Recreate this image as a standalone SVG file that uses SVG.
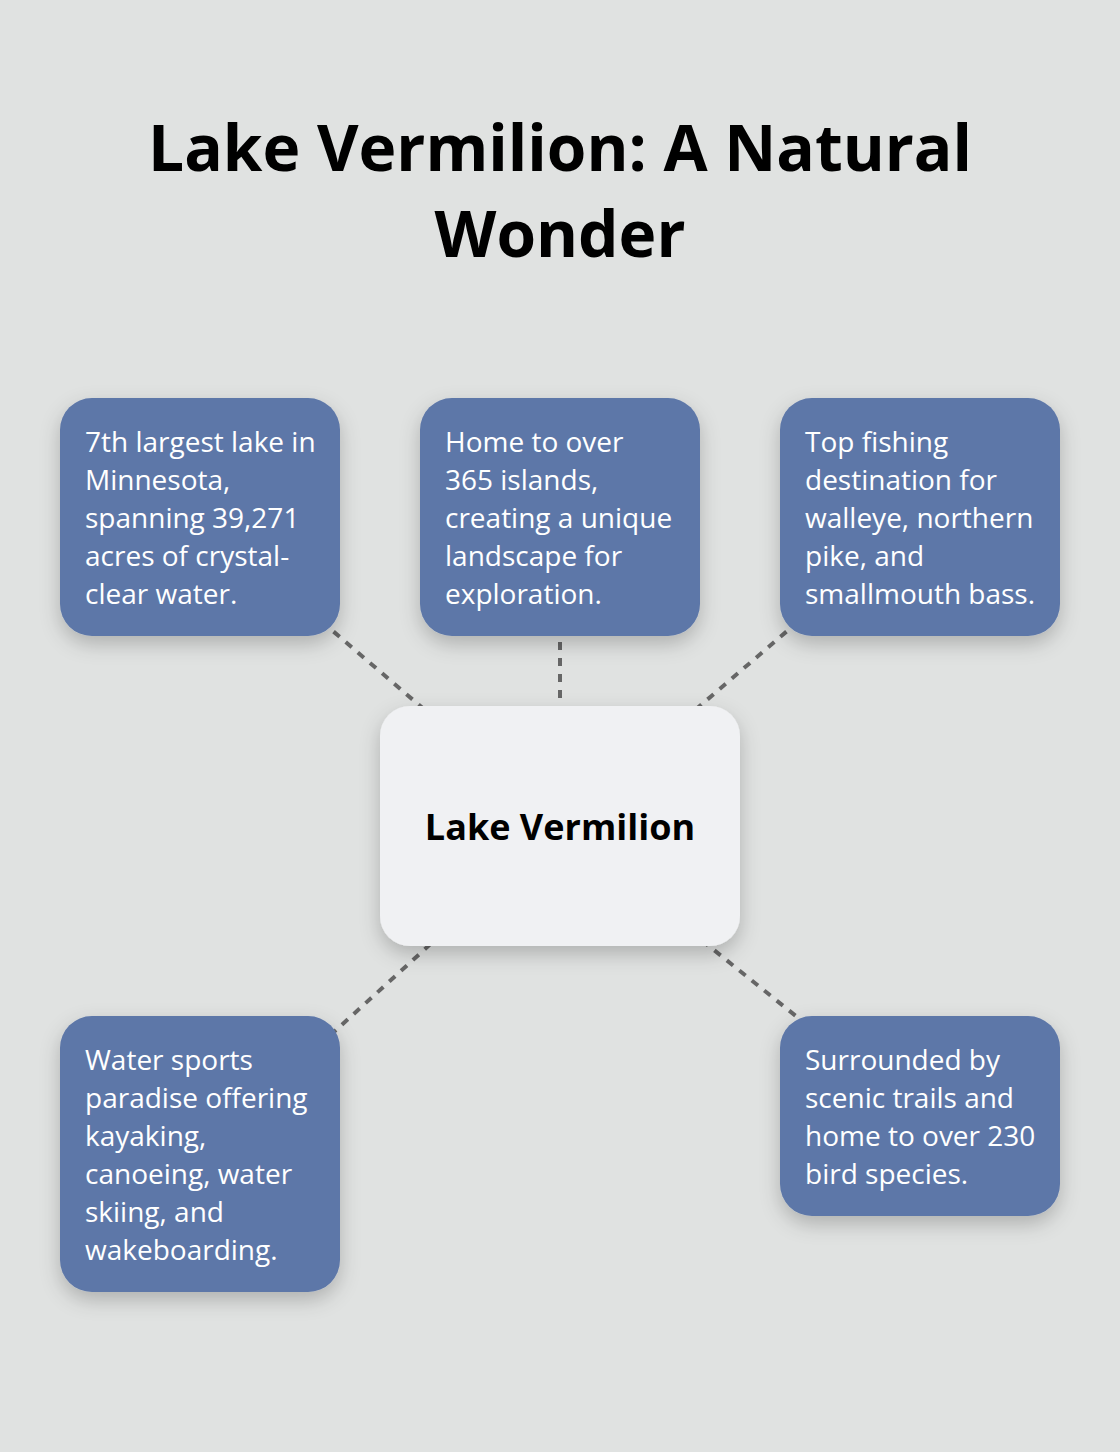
<svg xmlns="http://www.w3.org/2000/svg" width="1120" height="1452" viewBox="0 0 1120 1452">
  <defs>
    <filter id="shadow" x="-25%" y="-25%" width="150%" height="160%">
      <feDropShadow dx="0" dy="8" stdDeviation="10" flood-color="#000" flood-opacity="0.22"/>
    </filter>
    <style>
      .title { font-family: "Open Sans", "Noto Sans", "Liberation Sans", sans-serif; font-weight: 700; font-size: 64px; fill: #000; text-anchor: middle; }
      .box { fill: #5D77A8; filter: url(#shadow); }
      .center { fill: #F0F1F3; filter: url(#shadow); }
      .txt { font-family: "Open Sans", "Noto Sans", "Liberation Sans", sans-serif; font-size: 28px; fill: #FFFFFF; }
      .ctxt { font-family: "Open Sans", "Noto Sans", "Liberation Sans", sans-serif; font-weight: 700; font-size: 36px; fill: #000; text-anchor: middle; }
      .conn { stroke: #666666; stroke-width: 4; stroke-dasharray: 8 8; fill: none; }
    </style>
  </defs>
  <rect x="0" y="0" width="1120" height="1452" fill="#E0E2E1"/>
  <g id="title">
    <text class="title" x="560" y="171">Lake Vermilion: A Natural</text>
    <text class="title" x="560" y="257">Wonder</text>
  </g>
  <g id="connectors">
    <line class="conn" x1="200" y1="517" x2="560" y2="826"/>
    <line class="conn" x1="560" y1="642" x2="560" y2="700"/>
    <line class="conn" x1="920" y1="517" x2="560" y2="826"/>
    <line class="conn" x1="200" y1="1154" x2="560" y2="826"/>
    <line class="conn" x1="920" y1="1116" x2="560" y2="826"/>
  </g>
  <g id="node-size">
    <rect class="box" x="60" y="398" width="280" height="238" rx="32"/>
    <text class="txt" x="85" y="452">7th largest lake in</text>
    <text class="txt" x="85" y="490">Minnesota,</text>
    <text class="txt" x="85" y="528">spanning 39,271</text>
    <text class="txt" x="85" y="566">acres of crystal-</text>
    <text class="txt" x="85" y="604">clear water.</text>
  </g>
  <g id="node-islands">
    <rect class="box" x="420" y="398" width="280" height="238" rx="32"/>
    <text class="txt" x="445" y="452">Home to over</text>
    <text class="txt" x="445" y="490">365 islands,</text>
    <text class="txt" x="445" y="528">creating a unique</text>
    <text class="txt" x="445" y="566">landscape for</text>
    <text class="txt" x="445" y="604">exploration.</text>
  </g>
  <g id="node-fishing">
    <rect class="box" x="780" y="398" width="280" height="238" rx="32"/>
    <text class="txt" x="805" y="452">Top fishing</text>
    <text class="txt" x="805" y="490">destination for</text>
    <text class="txt" x="805" y="528">walleye, northern</text>
    <text class="txt" x="805" y="566">pike, and</text>
    <text class="txt" x="805" y="604">smallmouth bass.</text>
  </g>
  <g id="node-center">
    <rect class="center" x="380" y="706" width="360" height="240" rx="30"/>
    <text class="ctxt" x="560" y="840">Lake Vermilion</text>
  </g>
  <g id="node-watersports">
    <rect class="box" x="60" y="1016" width="280" height="276" rx="32"/>
    <text class="txt" x="85" y="1070">Water sports</text>
    <text class="txt" x="85" y="1108">paradise offering</text>
    <text class="txt" x="85" y="1146">kayaking,</text>
    <text class="txt" x="85" y="1184">canoeing, water</text>
    <text class="txt" x="85" y="1222">skiing, and</text>
    <text class="txt" x="85" y="1260">wakeboarding.</text>
  </g>
  <g id="node-trails">
    <rect class="box" x="780" y="1016" width="280" height="200" rx="32"/>
    <text class="txt" x="805" y="1070">Surrounded by</text>
    <text class="txt" x="805" y="1108">scenic trails and</text>
    <text class="txt" x="805" y="1146">home to over 230</text>
    <text class="txt" x="805" y="1184">bird species.</text>
  </g>
</svg>
